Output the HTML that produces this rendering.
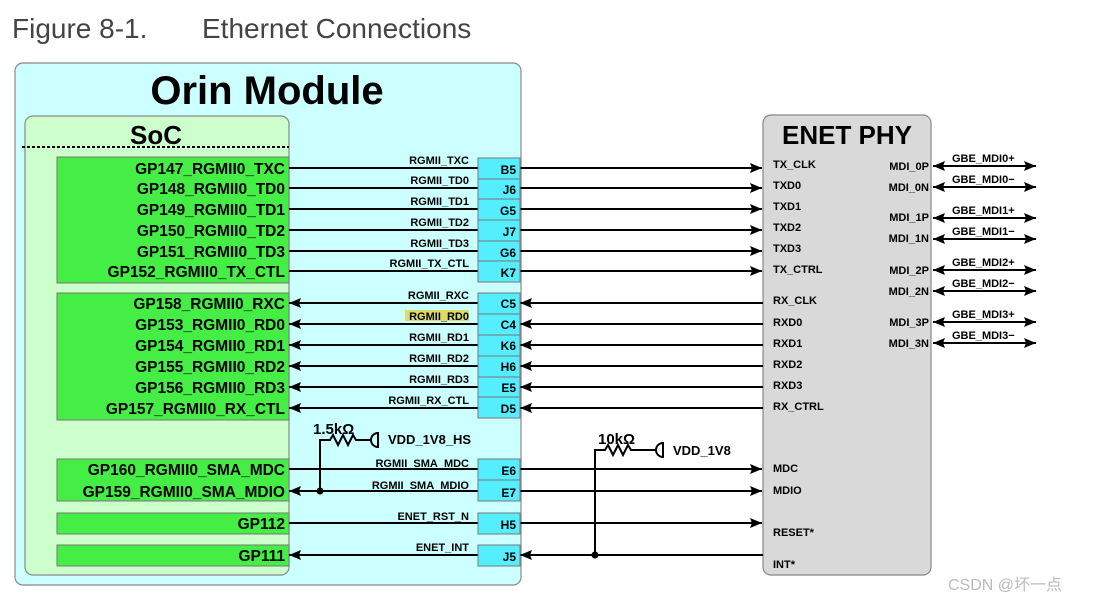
<!DOCTYPE html>
<html><head><meta charset="utf-8"><style>
html,body{margin:0;padding:0;background:#fff;width:1100px;height:603px;overflow:hidden}
svg{display:block}
text{font-family:"Liberation Sans",Arial,sans-serif}
.gp{font-size:15.5px;font-weight:bold;text-anchor:end}
.sig{font-size:11px;font-weight:bold;text-anchor:end}
.pin{font-size:12px;font-weight:bold;text-anchor:end}
.phy{font-size:11px;font-weight:bold}
.mdi{font-size:11px;font-weight:bold;text-anchor:end}
.gbe{font-size:11px;font-weight:bold}
line,path.w{stroke:#000;stroke-width:2;fill:none}
</style></head><body>
<svg width="1100" height="603" viewBox="0 0 1100 603" xmlns="http://www.w3.org/2000/svg">
<defs>
<marker id="a" viewBox="0 0 12 10" refX="12" refY="5" markerWidth="12" markerHeight="10" markerUnits="userSpaceOnUse" orient="auto-start-reverse"><path d="M0,0 L12,5 L0,10 L2,5 Z" fill="#000"/></marker>
</defs>
<text x="12" y="38" font-size="28" fill="#444">Figure 8-1.</text>
<text x="202" y="38" font-size="28" fill="#444">Ethernet Connections</text>

<rect x="15" y="63" width="506" height="522" rx="8" fill="#ccffff" stroke="#888" stroke-width="1.2"/>
<text x="267" y="104" font-size="40" font-weight="bold" text-anchor="middle">Orin Module</text>
<rect x="25" y="116" width="264" height="459" rx="8" fill="#ccffcc" stroke="#888" stroke-width="1.2"/>
<text x="156" y="144" font-size="26" font-weight="bold" text-anchor="middle">SoC</text>
<line x1="22" y1="147" x2="289" y2="147" stroke-dasharray="3,2"/>

<g fill="#44ee44" stroke="#777" stroke-width="1">
<rect x="57" y="157" width="232" height="126"/>
<rect x="57" y="293" width="232" height="127"/>
<rect x="57" y="459" width="232" height="42"/>
<rect x="57" y="513" width="232" height="21"/>
<rect x="57" y="545" width="232" height="21"/>
</g>

<rect x="763" y="115" width="168" height="460" rx="8" fill="#d9d9d9" stroke="#888" stroke-width="1.2"/>
<text x="847" y="144" font-size="26" font-weight="bold" text-anchor="middle">ENET PHY</text>

<!-- TX lines -->
<g marker-end="url(#a)">
<line x1="289" y1="168" x2="762" y2="168"/><line x1="289" y1="188" x2="762" y2="188"/><line x1="289" y1="209" x2="762" y2="209"/><line x1="289" y1="230" x2="762" y2="230"/><line x1="289" y1="251" x2="762" y2="251"/><line x1="289" y1="271" x2="762" y2="271"/>
<line x1="289" y1="469" x2="762" y2="469"/><line x1="520" y1="491" x2="762" y2="491"/><line x1="289" y1="523" x2="762" y2="523"/>
</g>
<!-- RX lines -->
<g marker-end="url(#a)">
<line x1="763" y1="303" x2="520" y2="303"/><line x1="478" y1="303" x2="289" y2="303"/>
<line x1="763" y1="324" x2="520" y2="324"/><line x1="478" y1="324" x2="289" y2="324"/>
<line x1="763" y1="345" x2="520" y2="345"/><line x1="478" y1="345" x2="289" y2="345"/>
<line x1="763" y1="366" x2="520" y2="366"/><line x1="478" y1="366" x2="289" y2="366"/>
<line x1="763" y1="387" x2="520" y2="387"/><line x1="478" y1="387" x2="289" y2="387"/>
<line x1="763" y1="408" x2="520" y2="408"/><line x1="478" y1="408" x2="289" y2="408"/>
<line x1="520" y1="491" x2="289" y2="491"/>
<line x1="763" y1="555" x2="520" y2="555"/><line x1="478" y1="555" x2="289" y2="555"/>
</g>

<g fill="#55eeff" stroke="#777" stroke-width="1">
<rect x="478" y="158" width="42" height="21"/><rect x="478" y="179" width="42" height="20"/><rect x="478" y="199" width="42" height="21"/><rect x="478" y="220" width="42" height="21"/><rect x="478" y="241" width="42" height="20"/><rect x="478" y="261" width="42" height="21"/>
<rect x="478" y="293" width="42" height="21"/><rect x="478" y="314" width="42" height="21"/><rect x="478" y="335" width="42" height="21"/><rect x="478" y="356" width="42" height="21"/><rect x="478" y="377" width="42" height="20"/><rect x="478" y="397" width="42" height="21"/>
<rect x="478" y="459" width="42" height="21"/><rect x="478" y="480" width="42" height="21"/>
<rect x="478" y="513" width="42" height="21"/><rect x="478" y="545" width="42" height="21"/>
</g>

<!-- resistors -->
<path class="w" d="M320,491 V440 H330 l3,-5 l5,10 l5,-10 l5,10 l5,-10 l3,5 H372" />
<circle cx="320" cy="491" r="3.5" fill="#000"/>
<path class="w" d="M378,433 a6,6 0 1 0 0,14" /><line x1="378" y1="432" x2="378" y2="448"/>
<text x="313" y="434" font-size="15" font-weight="bold">1.5kΩ</text>
<text x="388" y="444" font-size="13" font-weight="bold">VDD_1V8_HS</text>
<path class="w" d="M595,555 V450 H605 l3,-5 l5,10 l5,-10 l5,10 l5,-10 l3,5 H657" />
<circle cx="595" cy="555" r="3.5" fill="#000"/>
<path class="w" d="M663,443 a6,6 0 1 0 0,14" /><line x1="663" y1="442" x2="663" y2="458"/>
<text x="598" y="444" font-size="15" font-weight="bold">10kΩ</text>
<text x="673" y="455" font-size="13" font-weight="bold">VDD_1V8</text>

<!-- MDI arrows -->
<g marker-end="url(#a)" marker-start="url(#a)">
<line x1="933" y1="166" x2="1036" y2="166"/><line x1="933" y1="187" x2="1036" y2="187"/>
<line x1="933" y1="218" x2="1036" y2="218"/><line x1="933" y1="239" x2="1036" y2="239"/>
<line x1="933" y1="270" x2="1036" y2="270"/><line x1="933" y1="291" x2="1036" y2="291"/>
<line x1="933" y1="322" x2="1036" y2="322"/><line x1="933" y1="343" x2="1036" y2="343"/>
</g>

<text x="285" y="174" class="gp">GP147_RGMII0_TXC</text><text x="285" y="194" class="gp">GP148_RGMII0_TD0</text><text x="285" y="215" class="gp">GP149_RGMII0_TD1</text><text x="285" y="236" class="gp">GP150_RGMII0_TD2</text><text x="285" y="257" class="gp">GP151_RGMII0_TD3</text><text x="285" y="277" class="gp">GP152_RGMII0_TX_CTL</text>
<text x="285" y="309" class="gp">GP158_RGMII0_RXC</text><text x="285" y="330" class="gp">GP153_RGMII0_RD0</text><text x="285" y="351" class="gp">GP154_RGMII0_RD1</text><text x="285" y="372" class="gp">GP155_RGMII0_RD2</text><text x="285" y="393" class="gp">GP156_RGMII0_RD3</text><text x="285" y="414" class="gp">GP157_RGMII0_RX_CTL</text>
<text x="285" y="475" class="gp">GP160_RGMII0_SMA_MDC</text><text x="285" y="497" class="gp">GP159_RGMII0_SMA_MDIO</text>
<text x="285" y="529" class="gp">GP112</text><text x="285" y="561" class="gp">GP111</text>

<rect x="405" y="310" width="64" height="11" fill="#dddd66"/>
<text x="469" y="164" class="sig">RGMII_TXC</text><text x="469" y="184" class="sig">RGMII_TD0</text><text x="469" y="205" class="sig">RGMII_TD1</text><text x="469" y="226" class="sig">RGMII_TD2</text><text x="469" y="247" class="sig">RGMII_TD3</text><text x="469" y="267" class="sig">RGMII_TX_CTL</text>
<text x="469" y="299" class="sig">RGMII_RXC</text><text x="469" y="320" class="sig">RGMII_RD0</text><text x="469" y="341" class="sig">RGMII_RD1</text><text x="469" y="362" class="sig">RGMII_RD2</text><text x="469" y="383" class="sig">RGMII_RD3</text><text x="469" y="404" class="sig">RGMII_RX_CTL</text>
<text x="469" y="467" class="sig">RGMII_SMA_MDC</text><text x="469" y="489" class="sig">RGMII_SMA_MDIO</text><text x="469" y="520" class="sig">ENET_RST_N</text><text x="469" y="551" class="sig">ENET_INT</text>

<text x="516" y="174" class="pin">B5</text><text x="516" y="194" class="pin">J6</text><text x="516" y="215" class="pin">G5</text><text x="516" y="236" class="pin">J7</text><text x="516" y="257" class="pin">G6</text><text x="516" y="277" class="pin">K7</text>
<text x="516" y="308" class="pin">C5</text><text x="516" y="329" class="pin">C4</text><text x="516" y="350" class="pin">K6</text><text x="516" y="371" class="pin">H6</text><text x="516" y="392" class="pin">E5</text><text x="516" y="413" class="pin">D5</text>
<text x="516" y="475" class="pin">E6</text><text x="516" y="497" class="pin">E7</text><text x="516" y="529" class="pin">H5</text><text x="516" y="561" class="pin">J5</text>

<text x="773" y="168" class="phy">TX_CLK</text><text x="773" y="189" class="phy">TXD0</text><text x="773" y="210" class="phy">TXD1</text><text x="773" y="231" class="phy">TXD2</text><text x="773" y="252" class="phy">TXD3</text><text x="773" y="273" class="phy">TX_CTRL</text>
<text x="773" y="304" class="phy">RX_CLK</text><text x="773" y="326" class="phy">RXD0</text><text x="773" y="347" class="phy">RXD1</text><text x="773" y="368" class="phy">RXD2</text><text x="773" y="389" class="phy">RXD3</text><text x="773" y="410" class="phy">RX_CTRL</text>
<text x="773" y="472" class="phy">MDC</text><text x="773" y="494" class="phy">MDIO</text><text x="773" y="536" class="phy">RESET*</text><text x="773" y="568" class="phy">INT*</text>

<text x="929" y="170" class="mdi">MDI_0P</text><text x="929" y="191" class="mdi">MDI_0N</text><text x="929" y="221" class="mdi">MDI_1P</text><text x="929" y="242" class="mdi">MDI_1N</text><text x="929" y="274" class="mdi">MDI_2P</text><text x="929" y="295" class="mdi">MDI_2N</text><text x="929" y="326" class="mdi">MDI_3P</text><text x="929" y="347" class="mdi">MDI_3N</text>

<text x="952" y="162" class="gbe">GBE_MDI0+</text><text x="952" y="183" class="gbe">GBE_MDI0−</text><text x="952" y="214" class="gbe">GBE_MDI1+</text><text x="952" y="235" class="gbe">GBE_MDI1−</text><text x="952" y="266" class="gbe">GBE_MDI2+</text><text x="952" y="287" class="gbe">GBE_MDI2−</text><text x="952" y="318" class="gbe">GBE_MDI3+</text><text x="952" y="339" class="gbe">GBE_MDI3−</text>

<text x="948" y="590" font-size="16" fill="#bbb" style="font-family:'Liberation Sans','Noto Sans CJK SC',sans-serif">CSDN @坏一点</text>
</svg>
</body></html>
